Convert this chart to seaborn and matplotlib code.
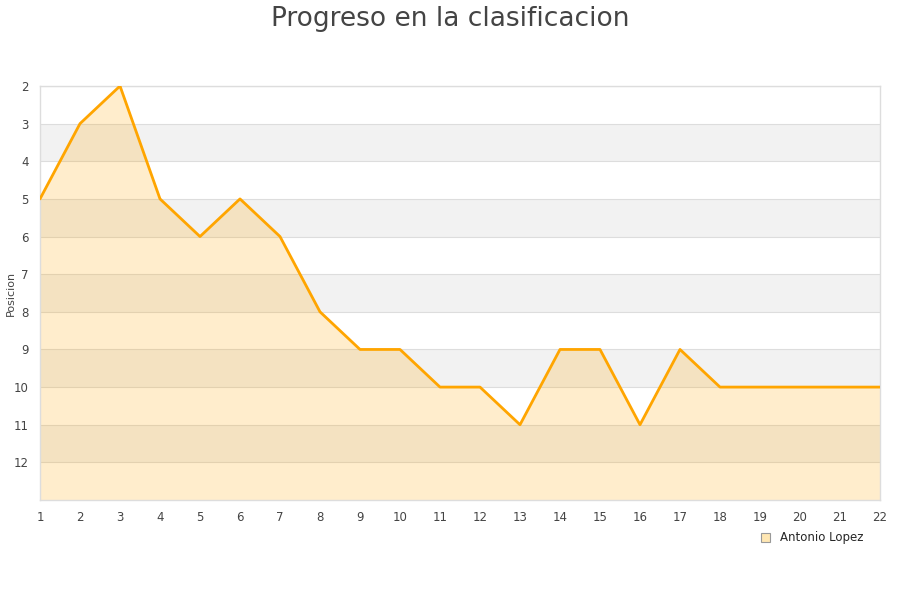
import numpy as np
import pandas as pd
import matplotlib
matplotlib.use("Agg")
import matplotlib.pyplot as plt
import seaborn as sns
from matplotlib.patches import Patch

# Data
jornadas = list(range(1, 23))
posicion = [5, 3, 2, 5, 6, 5, 6, 8, 9, 9, 10, 10, 11, 9, 9, 11, 9, 10, 10, 10, 10, 10]
jugador = "Antonio Lopez"
y_ticks = list(range(2, 13))

df = pd.DataFrame({"jornada": jornadas, "posicion": posicion})

sns.set_style("white")
plt.rcParams['font.family'] = ['DejaVu Sans']

fig = plt.figure(figsize=(9, 6), dpi=100)
ax = fig.add_axes([40 / 900, 100 / 600, 840 / 900, 414 / 600])

y_min, y_max = 2, 13
# alternating bands
for k in range(y_min, y_max):
    if k % 2 == 1:
        ax.axhspan(k, k + 1, color="#f2f2f2", zorder=0, lw=0)
for k in range(y_min, y_max):
    ax.axhline(k, color="#dddddd", lw=0.8, zorder=1)

ax.fill_between(df["jornada"], df["posicion"], y_max, color="#FFA500", alpha=0.2, lw=0, zorder=2)
sns.lineplot(data=df, x="jornada", y="posicion", color="#FFA500", lw=2, ax=ax, zorder=3)

ax.set_xlim(1, 22)
ax.set_ylim(y_max, y_min)
ax.set_xticks(jornadas)
ax.set_yticks(y_ticks)
ax.tick_params(axis="both", length=0, labelsize=8.5, colors="#444444")
ax.tick_params(axis="x", pad=8)
ax.tick_params(axis="y", pad=8)
ax.set_xlabel("")
ax.set_ylabel("Posicion", fontsize=8, color="#444444")
ax.yaxis.set_label_coords(-24 / 840, 0.5)
for s in ax.spines.values():
    s.set_color("#dddddd")
    s.set_linewidth(1)

fig.suptitle("Progreso en la clasificacion", y=0.99, fontsize=19, color="#444444")

handle = Patch(facecolor="#FFE7B3", edgecolor="#999999", lw=0.8)
fig.legend([handle], [jugador], loc="center", bbox_to_anchor=(812 / 900, 1 - 538 / 600),
           frameon=False, fontsize=8.5, handlelength=0.8, handleheight=0.8, handletextpad=0.8)

fig.savefig("out.png", dpi=100)
